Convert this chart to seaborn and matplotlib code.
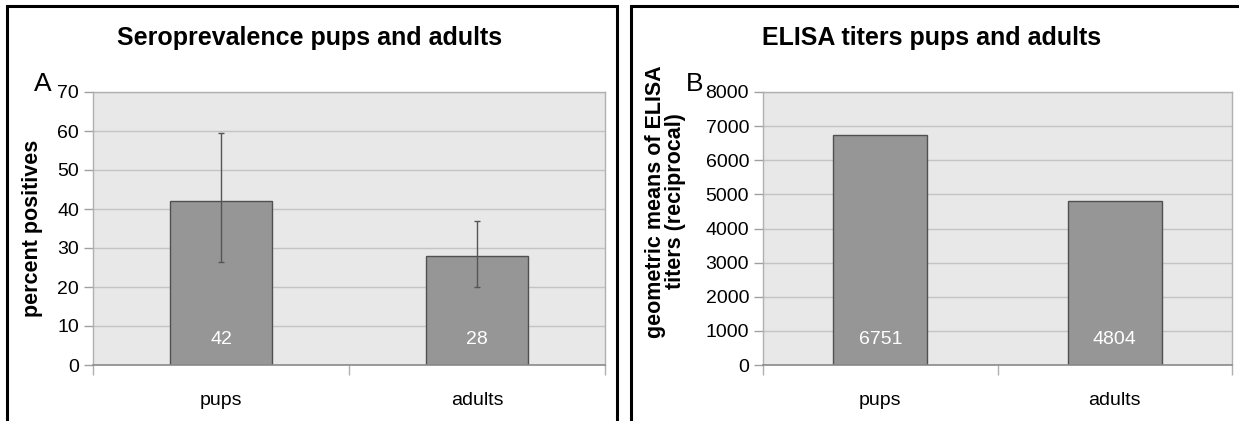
import matplotlib
matplotlib.use("Agg")
import matplotlib.pyplot as plt
from matplotlib.patches import Rectangle
from matplotlib.ticker import MultipleLocator, FixedLocator, NullFormatter
import numpy as np
import pandas as pd
import seaborn as sns

# ---- data ----
groups = ["pups", "adults"]
seroprevalence = [42, 28]          # percent positives
sero_lower = [26.5, 20.0]          # lower end of the interval
sero_upper = [59.5, 37.0]          # upper end of the interval
elisa_titers = [6751, 4804]        # geometric mean titers (reciprocal)

titles = ["Seroprevalence pups and adults", "ELISA titers pups and adults"]
ylabels = ["percent positives", "geometric means of ELISA\ntiters (reciprocal)"]
panel_tags = ["A", "B"]

sns.set_theme(style="white")
plt.rcParams["font.family"] = ["Liberation Sans", "DejaVu Sans"]
plt.rcParams["text.color"] = "black"
plt.rcParams["axes.labelcolor"] = "black"
plt.rcParams["xtick.color"] = "black"
plt.rcParams["ytick.color"] = "black"

W, H = 1239, 421
fig = plt.figure(figsize=(W / 100, H / 100), dpi=100)
fig.patch.set_facecolor("white")

TICK_FS = 14


def px_axes(x0, x1, ytop, ybot):
    return fig.add_axes([x0 / W, (H - ybot) / H, (x1 - x0) / W, (ybot - ytop) / H])


def style_axes(ax, ymax, ystep):
    ax.set_facecolor("#e8e8e8")
    ax.set_xlim(-0.5, 1.5)
    ax.set_ylim(0, ymax)
    ax.yaxis.set_major_locator(MultipleLocator(ystep))
    ax.grid(axis="y", color="#c4c4c4", linewidth=1.0)
    ax.set_axisbelow(True)
    for side in ["top", "right", "left"]:
        ax.spines[side].set_visible(True)
        ax.spines[side].set_color("#b0b0b0")
        ax.spines[side].set_linewidth(1.0)
    ax.spines["bottom"].set_color("#8a8a8a")
    ax.spines["bottom"].set_linewidth(1.2)
    ax.tick_params(axis="y", which="major", direction="out", length=6.5, width=1,
                   color="#a0a0a0", labelsize=TICK_FS, pad=3.5, left=True,
                   labelcolor="black")
    ax.tick_params(axis="x", which="major", length=0, labelsize=TICK_FS, pad=19.5,
                   labelcolor="black")
    ax.xaxis.set_minor_locator(FixedLocator([-0.5, 0.5, 1.5]))
    ax.xaxis.set_minor_formatter(NullFormatter())
    ax.tick_params(axis="x", which="minor", direction="out", length=7, width=1,
                   color="#b0b0b0", bottom=True)
    ax.set_xlabel("")


# ---- panel frames ----
fig.patches.append(Rectangle((7 / W, -0.1), (617 - 7) / W, 1.1 - 6 / H,
                             transform=fig.transFigure, fill=False,
                             edgecolor="black", linewidth=2.2))
fig.patches.append(Rectangle((631 / W, -0.1), 0.6, 1.1 - 6 / H,
                             transform=fig.transFigure, fill=False,
                             edgecolor="black", linewidth=2.2))

bar_kw = dict(color="#969696", edgecolor="#505050", linewidth=1.0, width=0.4,
              saturation=1, errorbar=None)

# ---- panel A ----
ax1 = px_axes(93, 605, 92, 365)
df1 = pd.DataFrame({"group": groups, "value": seroprevalence})
sns.barplot(data=df1, x="group", y="value", ax=ax1, **bar_kw)
style_axes(ax1, 70, 10)
yerr = [np.array(seroprevalence) - np.array(sero_lower),
        np.array(sero_upper) - np.array(seroprevalence)]
ax1.errorbar(range(len(groups)), seroprevalence, yerr=yerr, fmt="none",
             ecolor="#555555", elinewidth=1.0, capsize=2.3, capthick=1.0, zorder=5)
for i, v in enumerate(seroprevalence):
    ax1.annotate(f"{v}", (i, 0), xytext=(0, 25), textcoords="offset pixels",
                 ha="center", va="center", color="white", fontsize=14)
ax1.set_ylabel(ylabels[0], fontsize=15.5, fontweight="bold")
ax1.yaxis.set_label_coords(-0.098, 0.50)

# ---- panel B ----
ax2 = px_axes(763, 1232, 92, 365)
df2 = pd.DataFrame({"group": groups, "value": elisa_titers})
sns.barplot(data=df2, x="group", y="value", ax=ax2, **bar_kw)
style_axes(ax2, 8000, 1000)
for i, v in enumerate(elisa_titers):
    ax2.annotate(f"{v}", (i, 0), xytext=(0, 25), textcoords="offset pixels",
                 ha="center", va="center", color="white", fontsize=14)
ax2.set_ylabel(ylabels[1], fontsize=15.5, fontweight="bold", linespacing=0.95)
ax2.yaxis.set_label_coords(-0.164, 0.60)

# ---- titles and panel tags ----
fig.text(310 / W, (H - 38) / H, titles[0], ha="center", va="center",
         fontsize=18, fontweight="bold")
fig.text(932 / W, (H - 38) / H, titles[1], ha="center", va="center",
         fontsize=18, fontweight="bold")
fig.text(43 / W, (H - 84) / H, panel_tags[0], ha="center", va="center", fontsize=19)
fig.text(695 / W, (H - 84) / H, panel_tags[1], ha="center", va="center", fontsize=19)

fig.savefig("out.png", dpi=100, facecolor="white")
